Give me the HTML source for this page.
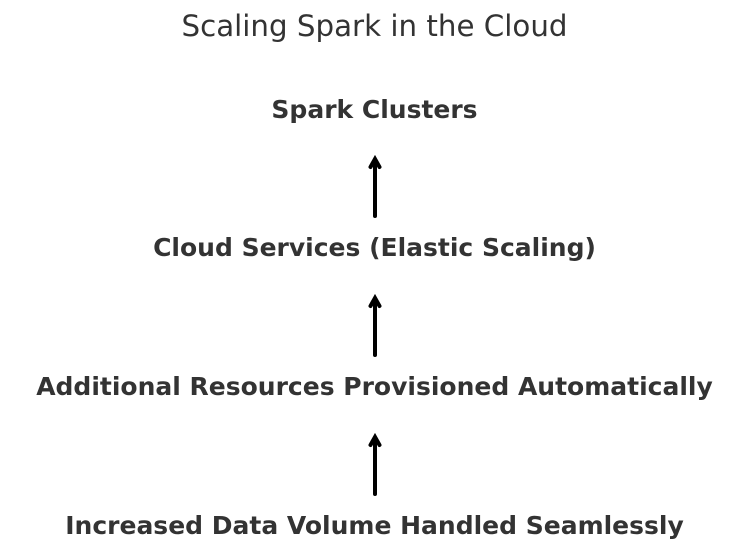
<!DOCTYPE html>
<html><head><style>
html,body{margin:0;padding:0;background:#fff;}
body{width:747px;height:552px;position:relative;overflow:hidden;font-family:"DejaVu Sans","Liberation Sans",sans-serif;color:#333;}
.t{position:absolute;left:1px;width:747px;text-align:center;white-space:nowrap;line-height:1;}
.b{font-weight:bold;font-size:25px;}
</style></head><body>
<div class="t" style="top:12px;font-size:29.3px;">Scaling Spark in the Cloud</div>
<div class="t b" style="top:97px;">Spark Clusters</div>
<div class="t b" style="top:235px;">Cloud Services (Elastic Scaling)</div>
<div class="t b" style="top:374px;">Additional Resources Provisioned Automatically</div>
<div class="t b" style="top:513px;">Increased Data Volume Handled Seamlessly</div>
<svg width="747" height="552" style="position:absolute;left:0;top:0">
<g stroke="#000" stroke-width="4" fill="none" stroke-linecap="round" stroke-linejoin="miter">
<path d="M375 216V160M370.5 167L375 159L379.5 167"/>
<path d="M375 355V299M370.5 306L375 298L379.5 306"/>
<path d="M375 494V438M370.5 445L375 437L379.5 445"/>
</g>
</svg>
</body></html>
